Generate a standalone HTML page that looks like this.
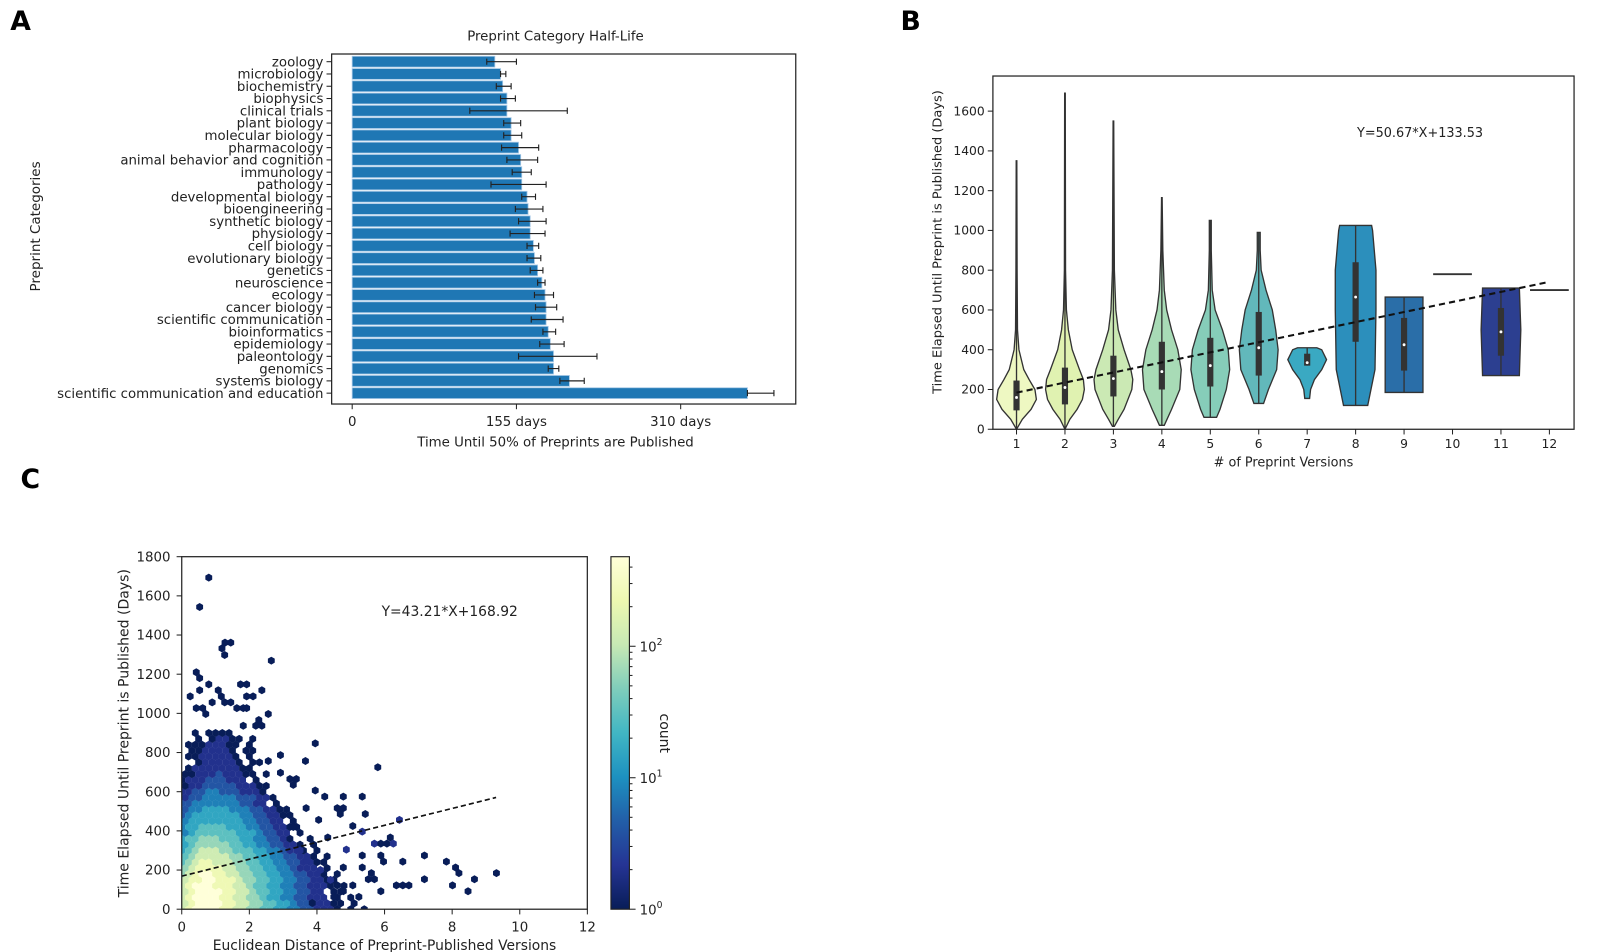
<!DOCTYPE html>
<html><head><meta charset="utf-8">
<style>
html,body{margin:0;padding:0;background:#fff;}
svg{display:block;font-family:"DejaVu Sans","Liberation Sans",sans-serif;}
</style></head>
<body>
<svg id="fig" xmlns="http://www.w3.org/2000/svg" width="1610" height="952" viewBox="0 0 1568 916.6" preserveAspectRatio="none">
<defs>
<linearGradient id="ylgnbu" x1="0" y1="1" x2="0" y2="0">
<stop offset="0" stop-color="#081d58"/><stop offset="0.125" stop-color="#253494"/><stop offset="0.25" stop-color="#225ea8"/><stop offset="0.375" stop-color="#1d91c0"/><stop offset="0.5" stop-color="#41b6c4"/><stop offset="0.625" stop-color="#7fcdbb"/><stop offset="0.75" stop-color="#c7e9b4"/><stop offset="0.875" stop-color="#edf8b1"/><stop offset="1" stop-color="#ffffd9"/>
</linearGradient>
<clipPath id="clipC"><rect x="177" y="536" width="395" height="339.4"/></clipPath>
</defs>
<g id="panelA"></g>
<g id="panelB"></g>
<g id="panelC"></g>
</svg>
<script>
// ---------- Panel A data ----------
const catNames = ["zoology","microbiology","biochemistry","biophysics","clinical trials","plant biology","molecular biology","pharmacology","animal behavior and cognition","immunology","pathology","developmental biology","bioengineering","synthetic biology","physiology","cell biology","evolutionary biology","genetics","neuroscience","ecology","cancer biology","scientific communication","bioinformatics","epidemiology","paleontology","genomics","systems biology","scientific communication and education"];
const halfLife = [134.6,140,142,146,146,150,150,157,159,160,160,165,166,168,168,171,172,175,179,182,183,183,185,187,190,190,205,373];
const errLow = [127,140,136,140,111,143,143,141,146,151,131,160,154,157,149,165,165,168,175,172,173,169,180,177,157,185,196,373];
const errHigh = [155,145,150,154,203,159,160,176,175,169,183,173,180,183,182,176,178,180,182,190,193,199,192,200,231,195,219,398];
const aTicks = [0,155,310];
const aTickLabels = ["0","155 days","310 days"];

// ---------- Panel B data ----------
const versions = [1,2,3,4,5,6,7,8,9,10,11,12];
const violinColors = ["#eef8c2","#e0f2b1","#cbe9b4","#a8dbb6","#86cdb9","#62b8bb","#3aa9c2","#2c8fbc","#2a6ea8","#243f93","#2c3f90","#1b2a70"];
const violinY = [
 [0,50,100,150,200,250,300,400,500,800,1350],
 [0,50,100,150,200,250,300,400,500,600,800,1690],
 [15,50,100,200,250,300,400,500,600,800,1550],
 [20,100,200,300,400,500,600,700,900,1165],
 [60,100,200,300,400,500,600,700,900,1050],
 [130,200,300,400,500,600,700,800,900,990],
 [155,200,250,300,350,400,410],
 [120,300,600,800,1000,1025],
 [185,665],
 [780,780],
 [270,500,710],
 [700,700]
];
const violinW = [
 [0,0.12,0.30,0.41,0.38,0.26,0.15,0.05,0.02,0.012,0.006],
 [0,0.10,0.25,0.36,0.40,0.38,0.30,0.15,0.07,0.03,0.012,0.006],
 [0.02,0.10,0.22,0.38,0.40,0.36,0.22,0.10,0.05,0.02,0.006],
 [0.05,0.20,0.37,0.40,0.33,0.20,0.10,0.05,0.02,0.006],
 [0.13,0.20,0.33,0.40,0.37,0.25,0.10,0.04,0.02,0.02],
 [0.10,0.20,0.37,0.40,0.35,0.28,0.15,0.05,0.03,0.03],
 [0.05,0.07,0.15,0.30,0.40,0.30,0.20],
 [0.25,0.40,0.42,0.42,0.35,0.33],
 [0.39,0.39],
 [0.40,0.40],
 [0.38,0.41,0.38],
 [0.40,0.40]
];
const boxQ1 = [95,125,165,200,215,270,320,440,295,null,370,null];
const boxQ3 = [245,310,370,440,460,590,380,840,560,null,610,null];
const boxMed = [160,210,255,290,320,410,335,665,425,null,490,null];
const whiskLo = [0,0,15,20,60,130,320,120,185,null,270,null];
const whiskHi = [430,550,630,730,720,990,400,1025,665,null,710,null];
const bYTicks = [0,200,400,600,800,1000,1200,1400,1600];
const bSlope = 50.67, bIntercept = 133.53;

// ---------- Panel C data ----------
const hexRowsY = [0,30,60,90,120,150,180,210,240,270,300,330,360,390,420,450,480,510,540,570,600,630,660,690,720,750,780,810,840,870,900];
const hexRowLevels = [
"789999887766554433221110.0.0",
"789999887766554432211100.0..",
"7899998877665443322111.0.0..",
"789999887765544332211.00....",
"78999888776554433221110.0...",
"78899888766554433221100.....",
"6789988776655443322110.0....",
"67888877665544332111.0......",
"5678877766554433221100......",
"56777776655443322110.0......",
"4567776655544332110.0.......",
"456666655443322110.0........",
"45566655544332210..0........",
"3455555544432211.0..........",
"344555544433221100..........",
"344444444332211.0...........",
"23444444433221100...........",
"2334444333221100............",
"2233333332211.0.............",
"12233333222110..............",
"1122332221110...............",
"0112222211100...............",
"0111222111.0................",
"00111211100.0...............",
".0111111100.................",
"..0111110.00................",
".00111110.0.................",
".0011110.00.................",
".00011100.0.................",
"..0.01100.0.................",
"..0.0000...................."
];
const sparseX = [0.8,0.53,1.19,1.28,1.45,1.27,2.65,0.43,0.53,0.8,1.74,1.92,2.37,0.53,0.25,1.08,1.17,1.92,2.11,0.9,1.27,1.45,0.43,0.62,1.63,1.82,1.92,0.71,2.56,2.28,2.19,2.37,1.82,3.95,2.56,3.66,2.92,5.8,2.92,3.2,3.39,3.3,3.95,4.23,4.78,5.34,3.68,4.6,4.78,4.69,5.43,4.05,6.44,5.06,5.34,4.32,6.17,5.7,5.89,6.07,6.26,4.87,5.34,7.18,5.89,6.54,7.83,5.97,8.1,8.2,9.31,5.61,4.78,5.34,5.52,5.7,7.18,8.66,6.35,6.54,6.72,8.01,5.89,8.47,4.5,5.24,4.78,5.06,4.6,3.86,3.5,3.7,4.1,4.4,3.3];
const sparseY = [1693,1543,1332,1361,1361,1298,1269,1210,1180,1148,1148,1148,1118,1118,1087,1118,1087,1087,1087,1056,1056,1056,1027,1027,1027,1027,1027,997,997,966,937,937,937,847,757,757,787,725,697,665,665,635,606,575,575,575,516,516,516,486,486,456,456,425,396,366,366,335,335,335,335,304,274,274,274,243,243,243,213,184,184,184,213,213,153,153,153,153,122,122,122,122,92,92,63,63,92,122,122,32,300,250,200,150,420];
const sparseLvl = [0,0,0,0,0,0,0,0,0,0,0,0,0,0,0,0,0,0,0,0,0,0,0,0,0,0,0,0,0,0,0,0,0,0,0,0,0,0,0,0,0,0,0,0,0,0,0,0,0,0,0,0,1,0,1,0,0,1,0,0,1,1,0,0,0,0,0,0,0,0,0,0,0,0,0,0,0,0,0,0,0,0,0,0,0,0,0,0,0,0,1,1,1,1,0];
const cXTicks = [0,2,4,6,8,10,12];
const cYTicks = [0,200,400,600,800,1000,1200,1400,1600,1800];
const cSlope = 43.21, cIntercept = 168.92;
const cbarMax = 480;

// ---------- helpers ----------
const NS = "http://www.w3.org/2000/svg";
function mk(parent, tag, attrs, text){
  const e = document.createElementNS(NS, tag);
  for (const k in attrs) e.setAttribute(k, attrs[k]);
  if (text !== undefined) e.textContent = text;
  parent.appendChild(e);
  return e;
}
function lerpColor(f){
  const stops=[[8,29,88],[37,52,148],[34,94,168],[29,145,192],[65,182,196],[127,205,187],[199,233,180],[237,248,177],[255,255,217]];
  f=Math.max(0,Math.min(1,f))*8; const i=Math.min(7,Math.floor(f)); const t=f-i;
  const c=stops[i].map((v,k)=>Math.round(v+(stops[i+1][k]-v)*t));
  return "rgb("+c.join(",")+")";
}

// ---------- Panel A ----------
(function(){
  const g = document.getElementById("panelA");
  const ax = d => 343 + d*1.032;
  const ay = i => 59.4 + i*11.82;
  let t;
  t = mk(g,"text",{x:10,y:29,"font-size":26,"font-weight":"bold"},"A");
   
  t = mk(g,"text",{x:541,y:39,"font-size":13,"text-anchor":"middle",fill:"#222"},"Preprint Category Half-Life");
   
  catNames.forEach((name,i)=>{
    const y = ay(i);
    const r = mk(g,"rect",{x:ax(0),y:y-5.2,width:ax(halfLife[i])-ax(0),height:10.4,fill:"#1f77b4",stroke:"#a6c8e6","stroke-width":0.8});
     
    const e = mk(g,"path",{d:`M${ax(errLow[i])},${y}H${ax(errHigh[i])}M${ax(errLow[i])},${y-3}v6M${ax(errHigh[i])},${y-3}v6`,stroke:"#222","stroke-width":1.1,fill:"none"});
     
    mk(g,"line",{x1:318,x2:323,y1:y,y2:y,stroke:"#222","stroke-width":1});
    const l = mk(g,"text",{x:315,y:y+4.5,"font-size":13,"text-anchor":"end",fill:"#222"},name);
     
  });
  const f = mk(g,"rect",{x:323,y:52,width:452,height:337,fill:"none",stroke:"#222","stroke-width":1.2});
   
  aTicks.forEach((v,i)=>{
    mk(g,"line",{x1:ax(v),x2:ax(v),y1:389,y2:394,stroke:"#222"});
    const tl = mk(g,"text",{x:ax(v),y:410,"font-size":13,"text-anchor":"middle",fill:"#222"},aTickLabels[i]);
     
  });
  t = mk(g,"text",{x:541,y:430,"font-size":13,"text-anchor":"middle",fill:"#222"},"Time Until 50% of Preprints are Published");
   
  t = mk(g,"text",{x:0,y:0,"font-size":13,"text-anchor":"middle",fill:"#222",transform:"translate(39,218) rotate(-90)"},"Preprint Categories");
   
})();

// ---------- Panel B ----------
(function(){
  const g = document.getElementById("panelB");
  const bx = v => 990 + (v-1)*47.18;
  const by = v => 413.3 - v*0.19144;
  const step = 47.18;
  let t;
  t = mk(g,"text",{x:877,y:29,"font-size":26,"font-weight":"bold"},"B");
   
  versions.forEach((v,i)=>{
    const ys = violinY[i], ws = violinW[i], cx = bx(v);
    if (ys[0]===ys[ys.length-1]) {
      const ln = mk(g,"line",{x1:cx-ws[0]*step,x2:cx+ws[1]*step,y1:by(ys[0]),y2:by(ys[0]),stroke:"#333","stroke-width":1.8});
       
      return;
    }
    let d = "";
    ys.forEach((y,k)=>{ d += (k?"L":"M")+(cx+ws[k]*step)+","+by(y); });
    for (let k=ys.length-1;k>=0;k--) d += "L"+(cx-ws[k]*step)+","+by(ys[k]);
    d += "Z";
    const p = mk(g,"path",{d:d,fill:violinColors[i],stroke:"#333","stroke-width":1.3});
     
    const w = mk(g,"line",{x1:cx,x2:cx,y1:by(whiskLo[i]),y2:by(Math.max(whiskHi[i],ys[ys.length-1])),stroke:"#333","stroke-width":1.3});
     
    const b = mk(g,"rect",{x:cx-3,y:by(boxQ3[i]),width:6,height:by(boxQ1[i])-by(boxQ3[i]),fill:"#333"});
     
    const m = mk(g,"circle",{cx:cx,cy:by(boxMed[i]),r:1.4,fill:"#fff"});
     
  });
  const rl = mk(g,"line",{x1:bx(1),y1:by(bSlope*1+bIntercept),x2:bx(12),y2:by(bSlope*12+bIntercept),stroke:"#111","stroke-width":2,"stroke-dasharray":"6,4"});
   
  const f = mk(g,"rect",{x:967,y:73.2,width:566,height:340.1,fill:"none",stroke:"#222","stroke-width":1.2});
   
  bYTicks.forEach(v=>{
    mk(g,"line",{x1:962,x2:967,y1:by(v),y2:by(v),stroke:"#222"});
    const tl = mk(g,"text",{x:959,y:by(v)+4,"font-size":12,"text-anchor":"end",fill:"#222"},String(v));
     
  });
  versions.forEach(v=>{
    mk(g,"line",{x1:bx(v),x2:bx(v),y1:413.3,y2:418.3,stroke:"#222"});
    const tl = mk(g,"text",{x:bx(v),y:431.5,"font-size":12,"text-anchor":"middle",fill:"#222"},String(v));
     
  });
  t = mk(g,"text",{x:1250,y:449,"font-size":12.5,"text-anchor":"middle",fill:"#222"},"# of Preprint Versions");
   
  t = mk(g,"text",{x:0,y:0,"font-size":12.5,"text-anchor":"middle",fill:"#222",transform:"translate(917,233) rotate(-90)"},"Time Elapsed Until Preprint is Published (Days)");
   
  t = mk(g,"text",{x:1383,y:132,"font-size":12.5,"text-anchor":"middle",fill:"#222"},"Y=50.67*X+133.53");
   
})();

// ---------- Panel C ----------
(function(){
  const g = document.getElementById("panelC");
  const cx = v => 177 + v*32.92;
  const cy = v => 875.4 - v*0.18856;
  let t;
  t = mk(g,"text",{x:20,y:470,"font-size":26,"font-weight":"bold"},"C");
   
  const hg = mk(g,"g",{"clip-path":"url(#clipC)"});
   
  const R = 3.85;
  function hex(x,y,lvl){
    const px=cx(x), py=cy(y);
    let d="";
    for(let k=0;k<6;k++){const a=Math.PI/180*(60*k+30); d+=(k?"L":"M")+(px+R*Math.cos(a)).toFixed(2)+","+(py+R*Math.sin(a)).toFixed(2);}
    const h = mk(hg,"path",{d:d+"Z",fill:lerpColor(lvl/9)});
    
    
  }
  hexRowsY.forEach((y,r)=>{
    const s = hexRowLevels[r];
    for(let c=0;c<s.length;c++){
      const ch=s[c]; if(ch===".") continue;
      hex(c*0.2 + (r%2?0.1:0), y, +ch);
    }
  });
  sparseX.forEach((x,i)=>hex(x,sparseY[i],sparseLvl[i]));
  const rl = mk(g,"line",{x1:cx(0),y1:cy(cIntercept),x2:cx(9.3),y2:cy(cSlope*9.3+cIntercept),stroke:"#111","stroke-width":1.6,"stroke-dasharray":"5,3"});
   
  const f = mk(g,"rect",{x:177,y:536,width:395,height:339.4,fill:"none",stroke:"#222","stroke-width":1.2});
   
  cYTicks.forEach(v=>{
    mk(g,"line",{x1:172,x2:177,y1:cy(v),y2:cy(v),stroke:"#222"});
    const tl = mk(g,"text",{x:166,y:cy(v)+4.5,"font-size":13,"text-anchor":"end",fill:"#222"},String(v));
     
  });
  cXTicks.forEach(v=>{
    mk(g,"line",{x1:cx(v),x2:cx(v),y1:875.4,y2:880.4,stroke:"#222"});
    const tl = mk(g,"text",{x:cx(v),y:897,"font-size":13,"text-anchor":"middle",fill:"#222"},String(v));
     
  });
  t = mk(g,"text",{x:374.5,y:914.5,"font-size":13.5,"text-anchor":"middle",fill:"#222"},"Euclidean Distance of Preprint-Published Versions");
   
  t = mk(g,"text",{x:0,y:0,"font-size":13.5,"text-anchor":"middle",fill:"#222",transform:"translate(125,706) rotate(-90)"},"Time Elapsed Until Preprint is Published (Days)");
   
  t = mk(g,"text",{x:438,y:593,"font-size":13.5,"text-anchor":"middle",fill:"#222"},"Y=43.21*X+168.92");
   
  const cb = mk(g,"rect",{x:595,y:536,width:18,height:339.4,fill:"url(#ylgnbu)",stroke:"#222","stroke-width":1.1});
   
  const lmax = Math.log10(cbarMax);
  const cby = c => 875.4 - Math.log10(c)/lmax*339.4;
  for(let dec=0;dec<3;dec++){
    for(let m=1;m<10;m++){
      const c=m*Math.pow(10,dec); if(c>cbarMax) break;
      mk(g,"line",{x1:613,x2:m===1?619:616,y1:cby(c),y2:cby(c),stroke:"#222","stroke-width":1});
    }
    const tl = mk(g,"text",{x:623,y:cby(Math.pow(10,dec))+5,"font-size":13,fill:"#222"},"10");
     
    mk(tl,"tspan",{dy:-6,"font-size":9},String(dec));
  }
  t = mk(g,"text",{x:0,y:0,"font-size":13.5,"text-anchor":"middle",fill:"#222",transform:"translate(643,706) rotate(90)"},"count");
   
})();
</script>
</body></html>
